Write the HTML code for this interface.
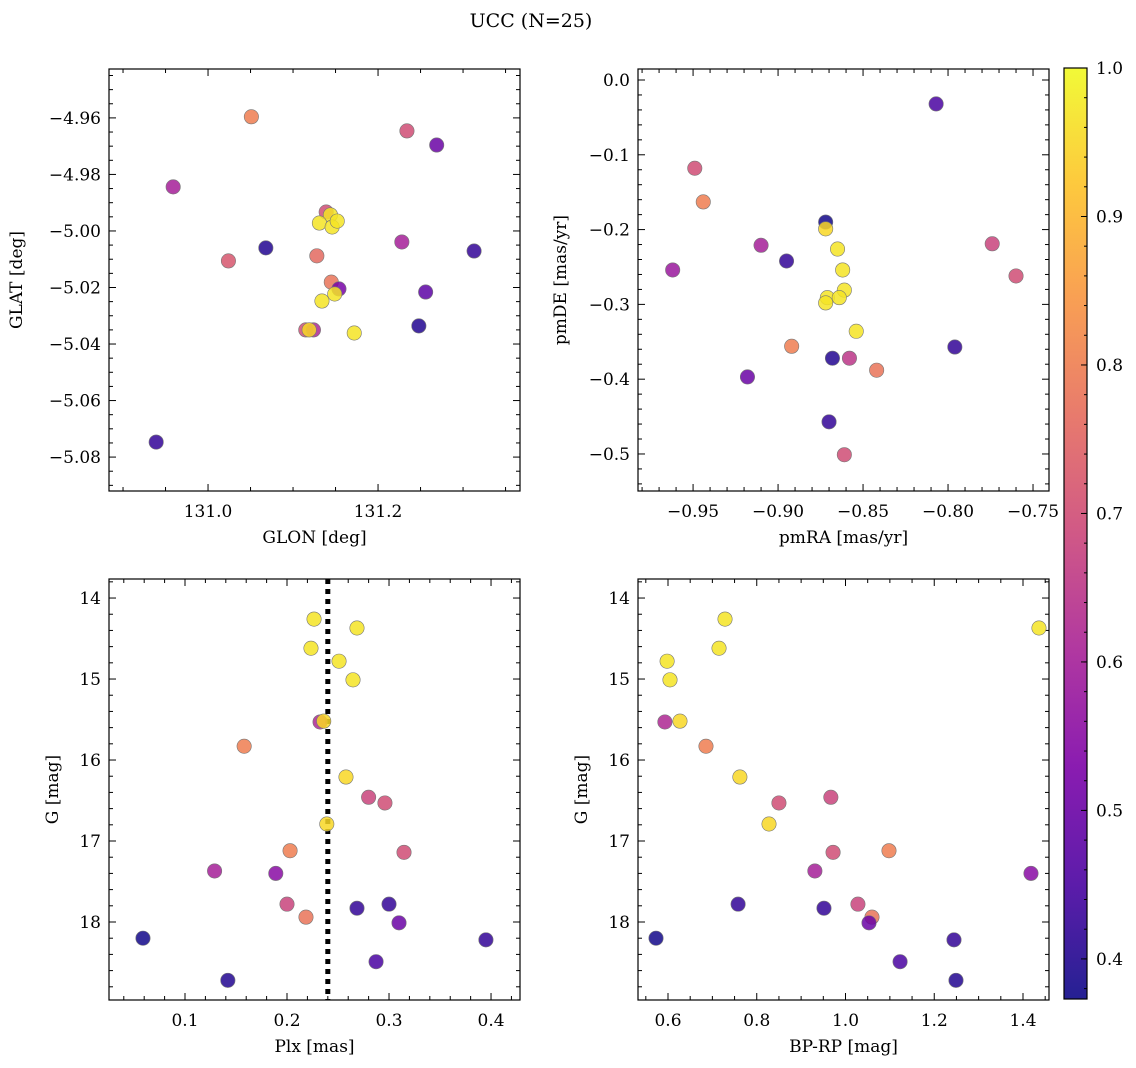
<!DOCTYPE html>
<html><head><meta charset="utf-8"><title>UCC (N=25)</title>
<style>
html,body{margin:0;padding:0;background:#fff;}
svg{display:block;font-family:"DejaVu Serif","Liberation Serif",serif;}
</style></head>
<body>
<svg id="fig" width="1136" height="1068" viewBox="0 0 1136 1068" xmlns="http://www.w3.org/2000/svg">
<text x="531" y="27" text-anchor="middle" font-size="19">UCC (N=25)</text>
</svg>
<script>
// ---- data ----
const p1Glon=[131.051,131.234,131.269,130.959,131.139,131.144,131.131,131.146,131.152,131.228,131.068,131.313,131.024,131.128,131.145,131.154,131.149,131.134,131.256,131.115,131.124,131.119,131.172,131.248,130.939];
const p1Glat=[-4.9596,-4.9646,-4.9696,-4.9844,-4.9933,-4.9943,-4.9972,-4.9986,-4.9965,-5.0039,-5.0060,-5.0071,-5.0106,-5.0088,-5.0181,-5.0205,-5.0223,-5.0248,-5.0216,-5.0350,-5.0350,-5.0350,-5.0361,-5.0336,-5.0747];
const p1Prob=[0.8,0.7,0.5,0.6,0.7,0.97,0.97,0.97,0.97,0.6,0.4,0.42,0.72,0.76,0.78,0.52,0.97,0.97,0.48,0.7,0.62,0.95,0.97,0.4,0.42];
const p2PmRA=[-0.807,-0.949,-0.944,-0.872,-0.872,-0.910,-0.865,-0.774,-0.962,-0.895,-0.862,-0.760,-0.861,-0.871,-0.864,-0.872,-0.854,-0.892,-0.796,-0.868,-0.858,-0.842,-0.918,-0.870,-0.861];
const p2PmDE=[-0.032,-0.118,-0.163,-0.190,-0.199,-0.221,-0.226,-0.219,-0.254,-0.242,-0.254,-0.262,-0.281,-0.291,-0.291,-0.298,-0.336,-0.356,-0.357,-0.372,-0.372,-0.388,-0.397,-0.457,-0.501];
const p2Prob=[0.45,0.7,0.8,0.38,0.95,0.6,0.97,0.68,0.58,0.42,0.97,0.7,0.97,0.97,0.97,0.97,0.97,0.8,0.42,0.4,0.65,0.78,0.5,0.42,0.7];
const p3Plx=[0.2265,0.2686,0.2235,0.251,0.2647,0.2324,0.236,0.158,0.2578,0.280,0.296,0.239,0.203,0.3147,0.129,0.189,0.200,0.300,0.2686,0.2186,0.3098,0.0588,0.395,0.2873,0.142];
const pG=[14.26,14.37,14.62,14.78,15.01,15.53,15.52,15.83,16.21,16.46,16.53,16.79,17.12,17.14,17.37,17.40,17.78,17.78,17.83,17.94,18.01,18.20,18.22,18.49,18.72];
const p4BpRp=[0.7285,1.436,0.715,0.598,0.6045,0.593,0.627,0.6856,0.762,0.967,0.850,0.8276,1.098,0.972,0.931,1.418,1.028,0.758,0.9515,1.0597,1.053,0.573,1.2445,1.123,1.249];
const pProb=[0.97,0.97,0.97,0.97,0.97,0.62,0.95,0.8,0.95,0.68,0.7,0.95,0.8,0.7,0.6,0.55,0.68,0.42,0.42,0.78,0.5,0.38,0.42,0.45,0.4];
const plxLine=0.240;
const cbMin=0.373, cbMax=1.0;
const cbTicks=[0.4,0.5,0.6,0.7,0.8,0.9,1.0];

const NS="http://www.w3.org/2000/svg";
const svg=document.getElementById('fig');
function mk(tag,attrs,parent){const e=document.createElementNS(NS,tag);for(const k in attrs)e.setAttribute(k,attrs[k]);(parent||svg).appendChild(e);return e;}

const stops=[[0,[13,8,135]],[0.125,[75,3,161]],[0.25,[125,3,168]],[0.375,[168,34,150]],[0.5,[203,70,121]],[0.625,[229,107,93]],[0.75,[248,148,65]],[0.875,[253,195,40]],[1,[240,249,33]]];
function plasma(t){t=Math.max(0,Math.min(1,t));for(let i=1;i<stops.length;i++){if(t<=stops[i][0]){const a=stops[i-1],b=stops[i],f=(t-a[0])/(b[0]-a[0]);const c=a[1].map((v,j)=>Math.round(v+(b[1][j]-v)*f));return `rgb(${c[0]},${c[1]},${c[2]})`;}}return 'rgb(240,249,33)';}
function col(p){return plasma((p-cbMin)/(cbMax-cbMin));}
const FS=17;

function panel(o){
  const g=mk('g',{});
  
  
  const sx=v=>o.x0+(v-o.xmin)/(o.xmax-o.xmin)*(o.x1-o.x0);
  const sy=v=>o.inv? o.y0+(v-o.ymin)/(o.ymax-o.ymin)*(o.y1-o.y0) : o.y1-(v-o.ymin)/(o.ymax-o.ymin)*(o.y1-o.y0);
  const eps=1e-9;
  function ticks(step,minor,isX){
    const lo=isX?o.xmin:o.ymin, hi=isX?o.xmax:o.ymax;
    const ms=step/minor;
    for(let k=Math.ceil(lo/ms-eps);k*ms<=hi+eps;k++){
      const v=k*ms; const major=Math.abs(Math.round(k/minor)*minor-k)<1e-6;
      const L=major?7:4;
      if(isX){const x=sx(v);
        const t1=mk('line',{x1:x,x2:x,y1:o.y1,y2:o.y1-L,stroke:'#000','stroke-width':1},g);
        
        mk('line',{x1:x,x2:x,y1:o.y0,y2:o.y0+L,stroke:'#000','stroke-width':1},g);
        if(major){const t=mk('text',{x:x,y:o.y1+26,'text-anchor':'middle','font-size':FS},g);t.textContent=v.toFixed(o.xd).replace('-','\u2212');
          }
      }else{const y=sy(v);
        const t1=mk('line',{x1:o.x0,x2:o.x0+L,y1:y,y2:y,stroke:'#000','stroke-width':1},g);
        
        mk('line',{x1:o.x1,x2:o.x1-L,y1:y,y2:y,stroke:'#000','stroke-width':1},g);
        if(major){const t=mk('text',{x:o.x0-8,y:y+6,'text-anchor':'end','font-size':FS},g);t.textContent=v.toFixed(o.yd).replace('-','\u2212');
          }
      }
    }
  }
  ticks(o.xs,o.xm,true); ticks(o.ys,o.ym,false);
  if(o.vline!==undefined){const l=mk('line',{x1:sx(o.vline),x2:sx(o.vline),y1:o.y0,y2:o.y1,stroke:'#000','stroke-width':5,'stroke-dasharray':'5,5'},g);
    }
  for(let i=0;i<o.xs_.length;i++){
    const c=mk('circle',{cx:sx(o.xs_[i]),cy:sy(o.ys_[i]),r:7.2,fill:col(o.c[i]),'fill-opacity':0.85,stroke:'#777','stroke-width':0.6},g);
    
    
  }
  const f=mk('rect',{x:o.x0,y:o.y0,width:o.x1-o.x0,height:o.y1-o.y0,fill:'none',stroke:'#000','stroke-width':1.2},g);
  
  const xl=mk('text',{x:(o.x0+o.x1)/2,y:o.y1+52,'text-anchor':'middle','font-size':FS},g);xl.textContent=o.xl;
  
  const cy=(o.y0+o.y1)/2;
  const yl=mk('text',{x:o.ylx,y:cy,'text-anchor':'middle','font-size':FS,transform:`rotate(-90 ${o.ylx} ${cy})`},g);yl.textContent=o.yl;
  
}

panel({name:'glon-glat-panel',x0:109,x1:520,y0:69,y1:491,xmin:130.8835,xmax:131.367,ymin:-5.092,ymax:-4.9427,xs:0.2,xm:4,ys:0.02,ym:4,xd:1,yd:2,xs_:p1Glon,ys_:p1Glat,c:p1Prob,xl:'GLON [deg]',yl:'GLAT [deg]',ylx:22});
panel({name:'proper-motion-panel',x0:638,x1:1049,y0:69,y1:491,xmin:-0.9824,xmax:-0.7406,ymin:-0.5495,ymax:0.0147,xs:0.05,xm:5,ys:0.1,ym:5,xd:2,yd:1,xs_:p2PmRA,ys_:p2PmDE,c:p2Prob,xl:'pmRA [mas/yr]',yl:'pmDE [mas/yr]',ylx:566});
panel({name:'plx-g-panel',x0:109,x1:520,y0:579,y1:1000,xmin:0.0255,xmax:0.4284,ymin:13.765,ymax:18.963,inv:true,xs:0.1,xm:5,ys:1,ym:5,xd:1,yd:0,xs_:p3Plx,ys_:pG,c:pProb,xl:'Plx [mas]',yl:'G [mag]',ylx:58,vline:plxLine});
panel({name:'cmd-panel',x0:638,x1:1049,y0:579,y1:1000,xmin:0.5324,xmax:1.4586,ymin:13.765,ymax:18.963,inv:true,xs:0.2,xm:4,ys:1,ym:5,xd:1,yd:0,xs_:p4BpRp,ys_:pG,c:pProb,xl:'BP-RP [mag]',yl:'G [mag]',ylx:587});

// colorbar
const cb=mk('g',{});


const defs=mk('defs',{},cb);
const grad=mk('linearGradient',{id:'pl',x1:0,y1:1,x2:0,y2:0},defs);
stops.forEach(s=>mk('stop',{offset:s[0],'stop-color':`rgb(${s[1].join(',')})`,'stop-opacity':0.9},grad));
const cx0=1064,cx1=1087,cy0=68,cy1=999;
mk('rect',{x:cx0,y:cy0,width:cx1-cx0,height:cy1-cy0,fill:'url(#pl)',stroke:'#000','stroke-width':1.2},cb);
const cyv=v=>cy1-(v-cbMin)/(cbMax-cbMin)*(cy1-cy0);
for(let k=Math.ceil(cbMin/0.02-1e-9);k*0.02<=cbMax+1e-9;k++){const y=cyv(k*0.02);mk('line',{x1:cx1,x2:cx1-3,y1:y,y2:y,stroke:'#000','stroke-width':1},cb);}
cbTicks.forEach(v=>{const y=cyv(v);
  mk('line',{x1:cx1,x2:cx1-6,y1:y,y2:y,stroke:'#000','stroke-width':1},cb);
  const t=mk('text',{x:cx1+9,y:y+6,'font-size':FS},cb);t.textContent=v.toFixed(1);
  });
</script>
</body></html>
